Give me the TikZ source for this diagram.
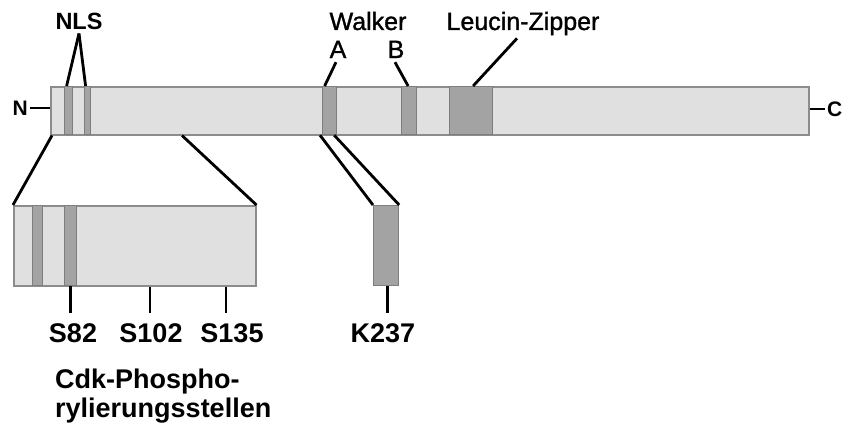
\documentclass[tikz,border=0pt]{standalone}
\usepackage{fontspec}
\setmainfont{Liberation Sans}
\newfontfamily\medfont[FakeBold=1.2]{Liberation Sans}
\definecolor{barfill}{HTML}{E0E0E0}
\definecolor{barline}{HTML}{8C8C8C}
\definecolor{bandfill}{HTML}{A3A3A3}
\definecolor{bandline}{HTML}{7E7E7E}
\begin{document}
\begin{tikzpicture}[x=1pt,y=-1pt,
  bar/.style={draw=barline, fill=barfill, line width=1.5pt, inner sep=0pt, anchor=north west},
  band/.style={draw=bandline, fill=bandfill, line width=1.2pt, inner sep=0pt, anchor=north west, minimum height=48pt},
  iband/.style={band, minimum height=80pt},
  conn/.style={line width=2.8pt, black},
  toplbl/.style={font=\fontsize{25}{28}\medfont, anchor=base, inner sep=0pt},
  botlbl/.style={font=\fontsize{27}{30}\selectfont\bfseries, anchor=base, inner sep=0pt},
  endlbl/.style={font=\fontsize{21}{24}\selectfont\bfseries, inner sep=0pt}]
\useasboundingbox (0,0) rectangle (844,423);

% main bar
\node[bar, minimum width=758pt, minimum height=48pt] (bar) at (50,86) {};
\node[band, minimum width=8pt] (nls1) at (64,86) {};
\node[band, minimum width=6pt] (nls2) at (84,86) {};
\node[band, minimum width=14pt] (wA) at (322,86) {};
\node[band, minimum width=15pt] (wB) at (401,86) {};
\node[band, minimum width=43pt] (lz) at (449,86) {};

% ends
\node[endlbl, anchor=east] (Nlab) at (28,108) {N};
\node[endlbl, anchor=west] (Clab) at (827,109) {C};
\draw[conn] ([xshift=2pt]Nlab.east) -- (bar.west |- Nlab.east);
\draw[conn] (bar.east |- Clab.west) -- ([xshift=-2pt]Clab.west);

% top labels
\node[toplbl, font=\fontsize{23.5}{28}\selectfont\bfseries] (nlslab) at (79,30) {NLS};
\node[toplbl] (walker) at (368,30) {Walker};
\node[toplbl] (Alab) at (338,58) {A};
\node[toplbl] (Blab) at (396,58) {B};
\node[toplbl] (lzlab) at (523,30) {Leucin-Zipper};

\coordinate (apex) at ([yshift=-3pt]nlslab.south);
\draw[conn] ([xshift=-2pt]nls1.north) -- (apex);
\draw[conn] ([xshift=-2pt]nls2.north) -- (apex);
\draw[conn] ([xshift=-2pt,yshift=-4pt]Alab.south) -- ([xshift=-5pt]wA.north);
\draw[conn] ([xshift=-1pt,yshift=-4pt]Blab.south) -- ([xshift=-1pt]wB.north);
\draw[conn] ([xshift=-6pt,yshift=-3pt]lzlab.south) -- ([xshift=2pt]lz.north);

% inset
\node[bar, minimum width=242pt, minimum height=80pt] (inset) at (13,205) {};
\node[iband, minimum width=10pt] (ib1) at (32,205) {};
\node[iband, minimum width=12pt] (ib2) at (64,205) {};

\draw[conn] ([xshift=2pt]bar.south west) -- (inset.north west);
\draw[conn] ([xshift=132pt]bar.south west) -- (inset.north east);

% K box
\node[band, minimum width=25pt, minimum height=80pt] (kbox) at (373,205) {};
\draw[conn] ([xshift=-2pt]wA.south west) -- (kbox.north west);
\draw[conn] ([xshift=-3pt]wA.south east) -- (kbox.north east);

% ticks
\coordinate (t82) at (ib2.south);
\coordinate (t102) at ([xshift=137pt]inset.south west);
\coordinate (t135) at ([xshift=213pt]inset.south west);
\coordinate (t237) at ([xshift=1pt]kbox.south);
\node[botlbl] (s82) at (73,342) {S82};
\node[botlbl] (s102) at (151,342) {S102};
\node[botlbl] (s135) at (232,342) {S135};
\node[botlbl] (k237) at (383,342) {K237};
\draw[conn] (t82) -- (t82 |- 0,313);
\draw[conn] (t102) -- (t102 |- 0,313);
\draw[conn] (t135) -- (t135 |- 0,313);
\draw[conn] (t237) -- (t237 |- 0,313);

\node[botlbl, anchor=base west] (cdk1) at (55,388) {Cdk-Phospho-};
\node[botlbl, anchor=base west] (cdk2) at (55,417) {rylierungsstellen};
\end{tikzpicture}
\end{document}
